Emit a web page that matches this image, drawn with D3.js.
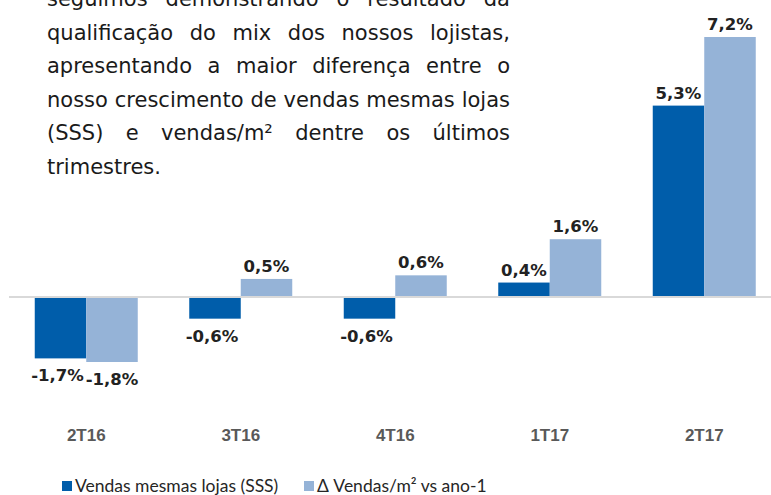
<!DOCTYPE html>
<html lang="pt">
<head>
<meta charset="UTF-8">
<title>Vendas mesmas lojas vs Vendas/m²</title>
<style>
  body { margin: 0; background: #fff; width: 771px; height: 495px; overflow: hidden; position: relative; }
  #note {
    position: absolute; left: 47px; top: -17px; width: 463px;
    font-family: "DejaVu Sans", sans-serif; font-size: 21px; line-height: 33.5px; color: #1a1a1a;
  }
  #note div { text-align: justify; text-align-last: justify; white-space: nowrap; }
  #note div.last { text-align-last: left; }
  svg { position: absolute; left: 0; top: 0; }
</style>
</head>
<body>
<div id="note"></div>
<svg id="chart" width="771" height="495"></svg>
<script src="https://d3js.org/d3.v7.min.js"></script>
<script>
  const categories = ["2T16", "3T16", "4T16", "1T17", "2T17"];
  const seriesNames = ["Vendas mesmas lojas (SSS)", "\u0394 Vendas/m\u00b2 vs ano-1"];
  const sss = [-1.7, -0.6, -0.6, 0.4, 5.3];
  const salesM2 = [-1.8, 0.5, 0.6, 1.6, 7.2];
  const colors = ["#005DAA", "#95B3D7"];
  const noteLines = [
    "seguimos demonstrando o resultado da",
    "qualificação do mix dos nossos lojistas,",
    "apresentando a maior diferença entre o",
    "nosso crescimento de vendas mesmas lojas",
    "(SSS) e vendas/m² dentre os últimos",
    "trimestres."
  ];

  d3.select("#note").selectAll("div")
    .data(noteLines)
    .join("div")
    .attr("class", (d, i) => i === noteLines.length - 1 ? "last" : null)
    .text(d => d);

  const svg = d3.select("#chart");
  const fmt = v => d3.format(".1f")(v).replace(".", ",").replace("−", "-") + "%";

  const x0 = d3.scaleBand().domain(categories).range([9, 781.5]).padding(0);
  const x1 = d3.scaleBand().domain([0, 1])
    .range([x0.bandwidth() / 6, x0.bandwidth() * 5 / 6]);
  const y = d3.scaleLinear().domain([0, 7.2]).range([297, 37]);

  const rows = categories.map((c, i) => ({ cat: c, vals: [sss[i], salesM2[i]] }));

  const groups = svg.selectAll(".grp")
    .data(rows)
    .join("g")
    .attr("class", "grp")
    .attr("transform", d => `translate(${x0(d.cat)},0)`);

  groups.selectAll("rect")
    .data(d => d.vals.map((v, s) => ({ v, s })))
    .join("rect")
    .attr("x", d => x1(d.s))
    .attr("width", x1.bandwidth())
    .attr("y", d => Math.min(y(d.v), y(0)))
    .attr("height", d => Math.abs(y(d.v) - y(0)))
    .attr("fill", d => colors[d.s]);

  groups.selectAll("text.val")
    .data(d => d.vals.map((v, s) => ({ v, s })))
    .join("text")
    .attr("class", "val")
    .attr("x", d => x1(d.s) + x1.bandwidth() / 2 + (d.v < 0 && d.s === 0 ? -3 : 0))
    .attr("y", d => d.v >= 0 ? y(d.v) - 7 : y(d.v) + 23)
    .attr("text-anchor", "middle")
    .attr("font-family", "DejaVu Sans, sans-serif")
    .attr("font-weight", "bold")
    .attr("font-size", 16.5)
    .attr("fill", "#222")
    .text(d => fmt(d.v));

  // zero line
  svg.append("line")
    .attr("x1", 9).attr("x2", 771)
    .attr("y1", y(0)).attr("y2", y(0))
    .attr("stroke", "#d9d9d9").attr("stroke-width", 2);

  // category labels
  svg.selectAll(".cat")
    .data(categories)
    .join("text")
    .attr("class", "cat")
    .attr("x", d => x0(d) + x0.bandwidth() / 2)
    .attr("y", 441)
    .attr("text-anchor", "middle")
    .attr("font-family", "Liberation Sans Narrow, sans-serif")
    .attr("font-weight", "bold")
    .attr("font-size", 17)
    .attr("fill", "#595959")
    .text(d => d);

  // legend
  const legX = [62, 304];
  const leg = svg.selectAll(".leg")
    .data(seriesNames)
    .join("g")
    .attr("class", "leg")
    .attr("transform", (d, i) => `translate(${legX[i]},480)`);
  leg.append("rect").attr("width", 10).attr("height", 10).attr("y", 1)
    .attr("fill", (d, i) => colors[i]);
  leg.append("text")
    .attr("x", 13).attr("y", 12)
    .attr("font-family", "Lato, sans-serif")
    .attr("font-size", 17.5)
    .attr("fill", "#262626")
    .text(d => d);
</script>
</body>
</html>
